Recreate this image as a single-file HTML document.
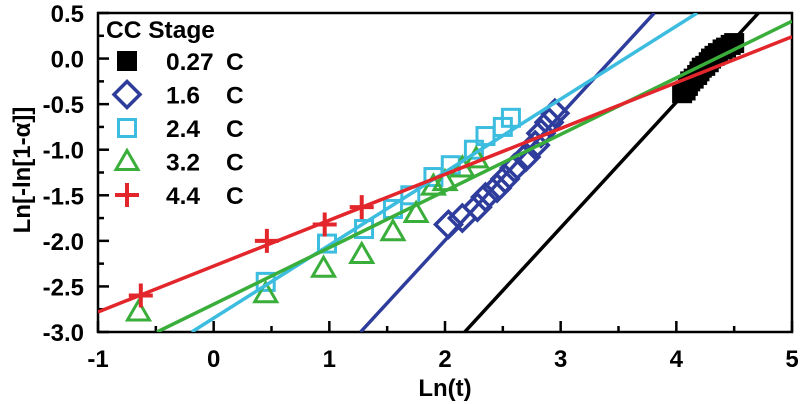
<!DOCTYPE html>
<html><head><meta charset="utf-8"><style>
body{margin:0;background:#fff;}
svg{display:block;font-family:"Liberation Sans",Arial,sans-serif;font-weight:bold;}
</style></head><body>
<svg id="chart" width="800" height="404" viewBox="0 0 800 404"></svg>
<script>
const xTicks=[-1,0,1,2,3,4,5];
const yTicks=[0.5,0.0,-0.5,-1.0,-1.5,-2.0,-2.5,-3.0];
const seriesNames=["0.27","1.6","2.4","3.2","4.4"];
const blackX=[4.05,4.08,4.1,4.12,4.15,4.18,4.2,4.22,4.25,4.28,4.3,4.33,4.36,4.4,4.43,4.47,4.5];
const blackY=[-0.38,-0.35,-0.3,-0.25,-0.22,-0.18,-0.14,-0.1,-0.08,-0.04,0,0.03,0.06,0.1,0.12,0.15,0.17];
const blueX=[2.03,2.15,2.28,2.35,2.45,2.52,2.6,2.7,2.78,2.83,2.9,2.95];
const blueY=[-1.82,-1.75,-1.63,-1.52,-1.42,-1.32,-1.2,-1.08,-0.95,-0.82,-0.7,-0.6];
const cyanX=[0.45,0.98,1.3,1.55,1.7,1.9,2.05,2.25,2.35,2.5,2.57];
const cyanY=[-2.45,-2.03,-1.87,-1.65,-1.5,-1.3,-1.17,-1.0,-0.85,-0.75,-0.65];
const greenX=[-0.65,0.45,0.95,1.28,1.55,1.75,1.9,2.0,2.15,2.27];
const greenY=[-2.78,-2.58,-2.3,-2.15,-1.9,-1.7,-1.4,-1.35,-1.2,-1.1];
const redX=[-0.63,0.46,0.96,1.28];
const redY=[-2.6,-2.0,-1.82,-1.63];
const blackFit=[2.17,-3.0,4.71,0.5];
const blueFit=[1.27,-3.0,3.81,0.5];
const cyanFit=[-0.19,-3.0,4.18,0.5];
const greenFit=[-0.49,-3.0,5.0,0.41];
const redFit=[-1.0,-2.78,5.0,0.24];

const L=98,R=792,T=13,B=332;
const sx=v=>L+(v+1)/6*(R-L);
const sy=v=>T+(0.5-v)/3.5*(B-T);
const svg=document.getElementById('chart');
const NS="http://www.w3.org/2000/svg";
function mk(tag,attrs,parent){const e=document.createElementNS(NS,tag);for(const k in attrs)e.setAttribute(k,attrs[k]);(parent||svg).appendChild(e);return e;}

const frame=mk('rect',{x:L,y:T,width:R-L,height:B-T,fill:'none',stroke:'#000','stroke-width':2.5});


xTicks.forEach((v,i)=>{
  const t=mk('line',{x1:sx(v),x2:sx(v),y1:B,y2:B-11,stroke:'#000','stroke-width':2.5});
  
  
  if(i<xTicks.length-1){const m=mk('line',{x1:sx(v+0.5),x2:sx(v+0.5),y1:B,y2:B-6,stroke:'#000','stroke-width':2.5});
  
  }
  const tx=mk('text',{x:sx(v),y:B+35,'text-anchor':'middle','font-size':24});
  tx.textContent=v;
  
  
});
yTicks.forEach((v,i)=>{
  const t=mk('line',{x1:L,x2:L+11,y1:sy(v),y2:sy(v),stroke:'#000','stroke-width':2.5});
  
  
  if(i<yTicks.length-1){const m=mk('line',{x1:L,x2:L+6,y1:sy(v-0.25),y2:sy(v-0.25),stroke:'#000','stroke-width':2.5});
  
  }
  const tx=mk('text',{x:84,y:sy(v)+9,'text-anchor':'end','font-size':24});
  tx.textContent=v.toFixed(1);
  
  
});
const xt=mk('text',{x:445,y:396,'text-anchor':'middle','font-size':24});
xt.textContent='Ln(t)';


const yt=mk('text',{x:0,y:0,'text-anchor':'middle','font-size':24,transform:'translate(30,170) rotate(-90)'});
yt.textContent='Ln[-ln[1-α]]';



const clip=mk('clipPath',{id:'pc'});mk('rect',{x:L,y:T,width:R-L,height:B-T},clip);
const g=mk('g',{'clip-path':'url(#pc)'});



function fit(f,col,name){const l=mk('line',{x1:sx(f[0]),y1:sy(f[1]),x2:sx(f[2]),y2:sy(f[3]),stroke:col,'stroke-width':3.5},g);

}
function marker(type,cx,cy,col,parent){
  let e;
  if(type==='fsq')e=mk('rect',{x:cx-10,y:cy-10,width:20,height:20,fill:col},parent);
  else if(type==='sq')e=mk('rect',{x:cx-8.5,y:cy-8.5,width:17,height:17,fill:'none',stroke:col,'stroke-width':3},parent);
  else if(type==='dia')e=mk('polygon',{points:`${cx},${cy-13} ${cx+13},${cy} ${cx},${cy+13} ${cx-13},${cy}`,fill:'none',stroke:col,'stroke-width':3.5},parent);
  else if(type==='tri')e=mk('polygon',{points:`${cx},${cy-11} ${cx+11},${cy+8} ${cx-11},${cy+8}`,fill:'none',stroke:col,'stroke-width':3},parent);
  else e=mk('path',{d:`M${cx-12},${cy}H${cx+12}M${cx},${cy-12}V${cy+12}`,stroke:col,'stroke-width':4},parent);
  return e;
}
function pts(xs,ys,type,col,name){xs.forEach((x,i)=>{const e=marker(type,sx(x),sy(ys[i]),col,g);

});}

const C={k:'#000',b:'#2e3d9c',c:'#3cbde0',g:'#3aae3a',r:'#e3262b'};
pts(cyanX,cyanY,'sq',C.c,'point-2-4c');
pts(greenX,greenY,'tri',C.g,'point-3-2c');
pts(blueX,blueY,'dia',C.b,'point-1-6c');
pts(blackX,blackY,'fsq',C.k,'point-0-27c');
fit(blackFit,C.k,'fit-line-0-27c');
fit(blueFit,C.b,'fit-line-1-6c');
fit(cyanFit,C.c,'fit-line-2-4c');
fit(greenFit,C.g,'fit-line-3-2c');
fit(redFit,C.r,'fit-line-4-4c');
pts(redX,redY,'plus',C.r,'point-4-4c');

const lg=mk('g',{});


const lt=mk('text',{x:106,y:38,'font-size':24.5},lg);lt.textContent='CC Stage';
const types=['fsq','dia','sq','tri','plus'],cols=[C.k,C.b,C.c,C.g,C.r];
seriesNames.forEach((n,i)=>{
  const y=61+i*33.5;
  marker(types[i],127,y,cols[i],lg);
  const t=mk('text',{x:166,y:y+9,'font-size':24.5},lg);t.textContent=n;
  const c=mk('text',{x:226,y:y+9,'font-size':24.5},lg);c.textContent='C';
  
  
});
</script>
</body></html>
